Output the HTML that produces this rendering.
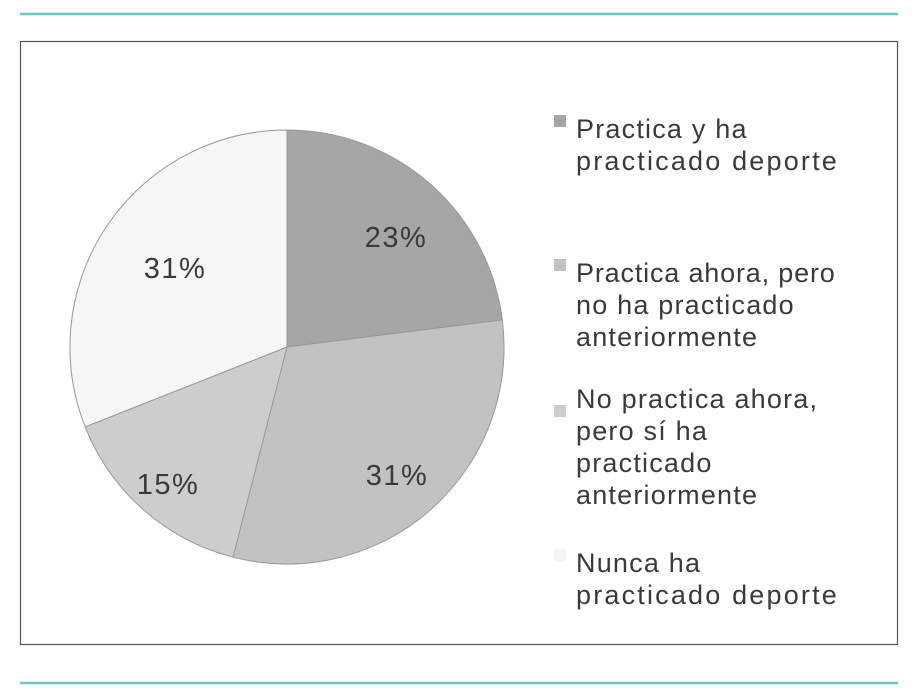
<!DOCTYPE html>
<html><head><meta charset="utf-8"><style>
html,body{margin:0;padding:0;background:#fff;width:917px;height:695px;overflow:hidden}
svg text{font-family:"Liberation Sans",sans-serif;fill:#3a3a3a}
</style></head><body>
<svg width="917" height="695" viewBox="0 0 917 695">
<line x1="20" y1="14" x2="898" y2="14" stroke="#6fc7c4" stroke-width="2.5"/>
<line x1="20" y1="683" x2="898" y2="683" stroke="#6fc7c4" stroke-width="2.5"/>
<rect x="20.5" y="41.5" width="877" height="603" fill="#fff" stroke="#555" stroke-width="1.2"/>
<g stroke="#999" stroke-width="1">
<path d="M287,347 L287,130 A217,217 0 0 1 502.3,319.9 Z" fill="#a6a6a6"/>
<path d="M287,347 L502.3,319.9 A217,217 0 0 1 233,557.2 Z" fill="#c2c2c2"/>
<path d="M287,347 L233,557.2 A217,217 0 0 1 85.2,426.9 Z" fill="#cdcdcd"/>
<path d="M287,347 L85.2,426.9 A217,217 0 0 1 287,130 Z" fill="#f6f6f6"/>
</g>
<g font-size="29" text-anchor="middle" letter-spacing="1.5">
<text x="396" y="247">23%</text>
<text x="397" y="485">31%</text>
<text x="168" y="494">15%</text>
<text x="175" y="278">31%</text>
</g>
<rect x="554" y="115" width="12" height="12" fill="#a6a6a6"/>
<rect x="554" y="259" width="12" height="12" fill="#c2c2c2"/>
<rect x="554" y="405" width="12" height="12" fill="#cdcdcd"/>
<rect x="554" y="549" width="12" height="12" fill="#f3f3f3"/>
<g font-size="27" letter-spacing="1.2">
<text x="576" y="138">Practica y ha</text>
<text x="576" y="170" textLength="262">practicado deporte</text>
<text x="576" y="282" textLength="260">Practica ahora, pero</text>
<text x="576" y="314">no ha practicado</text>
<text x="576" y="346">anteriormente</text>
<text x="576" y="408">No practica ahora,</text>
<text x="576" y="440">pero sí ha</text>
<text x="576" y="472">practicado</text>
<text x="576" y="504">anteriormente</text>
<text x="576" y="572">Nunca ha</text>
<text x="576" y="604" textLength="262">practicado deporte</text>
</g>
</svg>
</body></html>
